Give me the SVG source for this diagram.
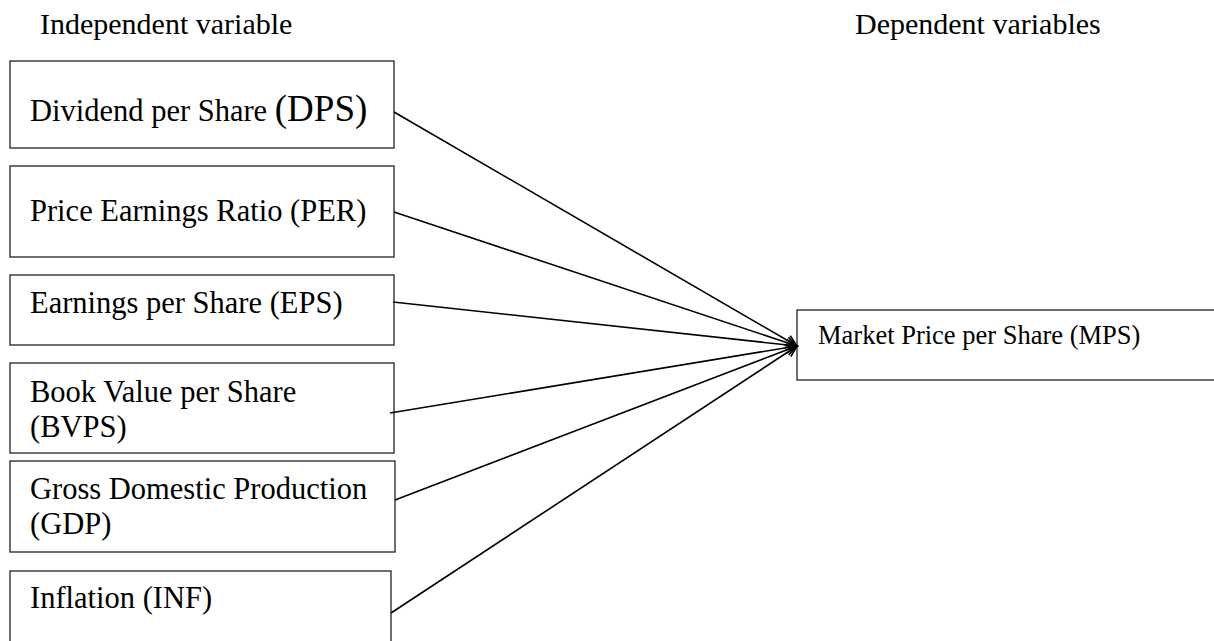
<svg xmlns="http://www.w3.org/2000/svg" width="1214" height="641" viewBox="0 0 1214 641">
<style>
text{font-family:"Liberation Serif","Times New Roman",serif;fill:#000;}
.t{font-size:30.5px;}
.h{font-size:30px;}
.m{font-size:26.5px;}
.box{fill:#fff;stroke:#222;stroke-width:1.3;}
.c{stroke:#000;stroke-width:1.6;fill:none;marker-end:url(#ah);}
</style>
<defs>
<marker id="ah" markerWidth="14" markerHeight="14" refX="12" refY="7" orient="auto" markerUnits="userSpaceOnUse">
<path d="M1,1.5 L12,7 L1,12.5" fill="none" stroke="#000" stroke-width="1.6"/>
</marker>
</defs>
<rect width="1214" height="641" fill="#fff"/>
<text class="h" x="40" y="34">Independent variable</text>
<text class="h" x="855" y="34">Dependent variables</text>
<g id="dps"><rect class="box" x="10" y="61" width="384" height="87"/><text class="t" x="30" y="121">Dividend per Share <tspan font-size="37px">(DPS)</tspan></text></g>
<g id="per"><rect class="box" x="10" y="166" width="384" height="91"/><text class="t" x="30" y="221">Price Earnings Ratio (PER)</text></g>
<g id="eps"><rect class="box" x="10" y="275" width="384" height="70"/><text class="t" x="30" y="313">Earnings per Share (EPS)</text></g>
<g id="bvps"><rect class="box" x="10" y="363" width="384" height="90"/><text class="t" x="30" y="402">Book Value per Share</text><text class="t" x="30" y="437">(BVPS)</text></g>
<g id="gdp"><rect class="box" x="10" y="461" width="385" height="91"/><text class="t" x="30" y="499">Gross Domestic Production</text><text class="t" x="30" y="534">(GDP)</text></g>
<g id="inf"><rect class="box" x="10" y="571" width="381" height="80"/><text class="t" x="30" y="608">Inflation (INF)</text></g>
<g id="mps"><rect class="box" x="797" y="310" width="430" height="70"/><text class="m" x="818" y="344">Market Price per Share (MPS)</text></g>
<g id="connectors">
<line class="c" x1="394" y1="112" x2="797" y2="346"/>
<line class="c" x1="394" y1="212" x2="797" y2="346"/>
<line class="c" x1="393" y1="302" x2="797" y2="346"/>
<line class="c" x1="390" y1="413" x2="797" y2="346"/>
<line class="c" x1="395" y1="500" x2="797" y2="346"/>
<line class="c" x1="391" y1="613" x2="797" y2="346"/>
</g>
</svg>
